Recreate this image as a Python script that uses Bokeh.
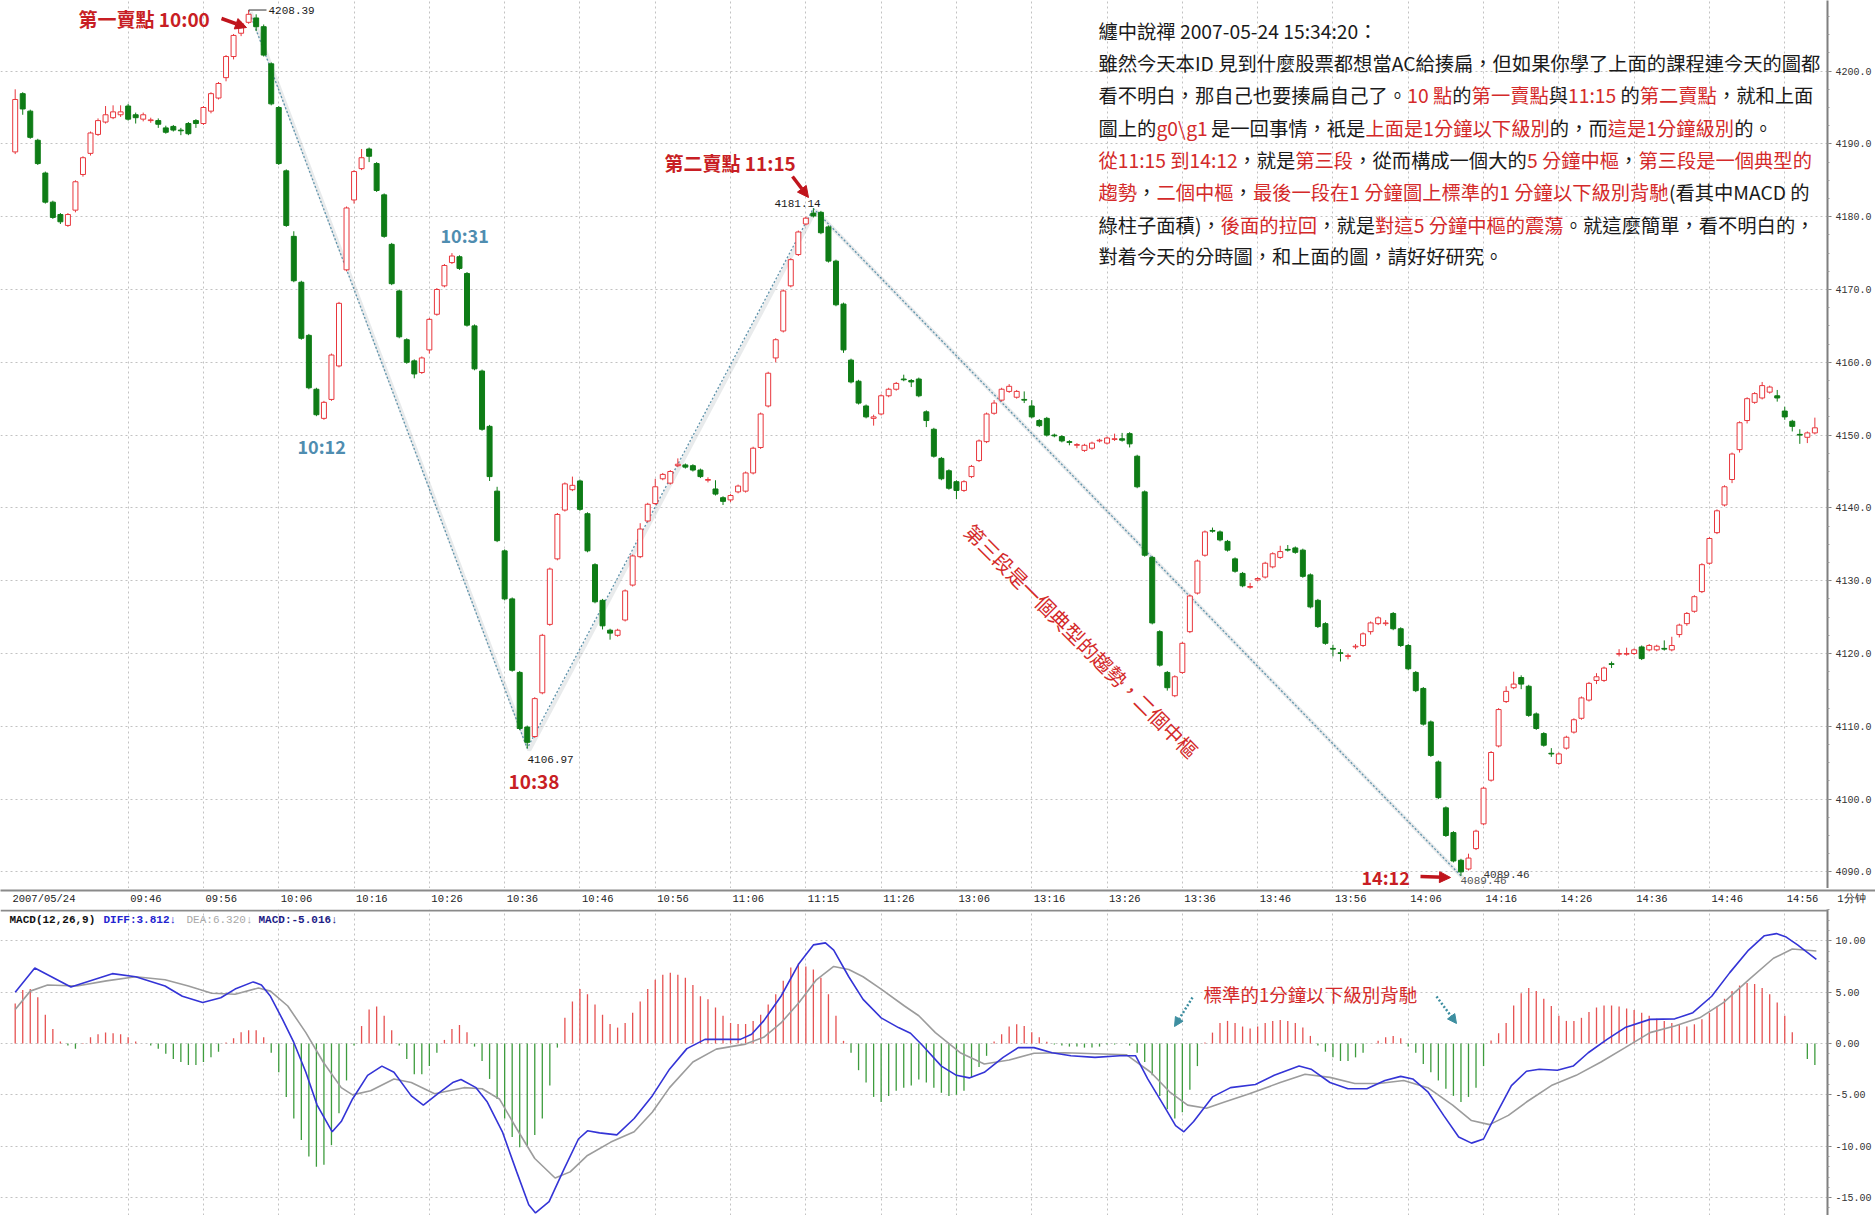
import numpy as np
from bokeh.plotting import figure
from bokeh.layouts import column
from bokeh.models import (ColumnDataSource, Range1d, FixedTicker, SingleIntervalTicker,
                          NumeralTickFormatter, Label, Arrow, NormalHead, Span)
from bokeh.embed import file_html
from bokeh.resources import INLINE

# ---------------- data (1-minute bars, 2007/05/24) ----------------
opens = [
    4188.9, 4196.9, 4194.5, 4190.5, 4186.0, 4182.0, 4180.3, 4178.8, 4180.9, 4185.8,
    4188.7, 4191.3, 4193.0, 4193.6, 4194.0, 4195.2, 4194.0, 4193.4, 4193.2, 4193.2,
    4192.2, 4192.4, 4191.9, 4192.8, 4193.2, 4192.8, 4194.5, 4196.3, 4199.1, 4202.0,
    4205.2, 4206.7, 4207.3, 4206.1, 4201.0, 4195.0, 4186.3, 4177.3, 4171.0, 4163.7,
    4156.3, 4152.3, 4154.9, 4159.5, 4172.7, 4182.3, 4186.6, 4189.3, 4187.3, 4183.0,
    4176.2, 4169.8, 4163.1, 4160.2, 4158.6, 4161.7, 4166.6, 4170.5, 4173.7, 4174.5,
    4172.2, 4165.0, 4158.8, 4151.2, 4142.3, 4134.1, 4127.5, 4117.4, 4109.9, 4108.6,
    4114.6, 4124.0, 4133.0, 4139.7, 4142.5, 4143.7, 4139.2, 4132.2, 4127.3, 4123.2,
    4122.5, 4124.6, 4129.4, 4133.3, 4138.2, 4140.6, 4144.0, 4143.4, 4145.8, 4145.9,
    4145.8, 4145.2, 4143.8, 4142.6, 4141.4, 4141.1, 4142.2, 4142.3, 4144.8, 4148.3,
    4154.0, 4160.6, 4164.3, 4170.5, 4174.8, 4179.0, 4180.5, 4180.6, 4178.6, 4173.9,
    4168.0, 4160.3, 4157.4, 4154.0, 4152.3, 4152.9, 4155.4, 4156.3, 4157.7, 4157.5,
    4157.7, 4153.2, 4150.8, 4146.8, 4145.1, 4143.6, 4142.4, 4144.3, 4146.5, 4149.1,
    4153.0, 4154.8, 4156.0, 4155.2, 4154.9, 4154.0, 4152.0, 4152.3, 4150.0, 4149.8,
    4149.1, 4148.6, 4147.9, 4148.2, 4149.2, 4148.9, 4149.4, 4149.5, 4150.2, 4147.1,
    4142.2, 4133.2, 4123.0, 4117.4, 4114.2, 4117.4, 4123.0, 4128.3, 4133.5, 4136.9,
    4136.7, 4135.4, 4133.0, 4131.0, 4129.1, 4130.1, 4130.5, 4131.9, 4133.2, 4134.3,
    4134.5, 4134.2, 4130.8, 4127.3, 4124.1, 4120.7, 4120.1, 4119.6, 4120.9, 4121.1,
    4123.0, 4124.1, 4124.1, 4125.5, 4123.4, 4121.1, 4117.4, 4115.2, 4110.6, 4105.1,
    4098.8, 4095.4, 4091.6, 4090.4, 4093.2, 4096.6, 4102.6, 4107.3, 4113.4, 4115.3,
    4116.7, 4115.5, 4111.7, 4109.0, 4106.3, 4104.9, 4107.0, 4109.2, 4111.1, 4113.6,
    4116.3, 4116.3, 4118.6, 4119.9, 4119.9, 4120.0, 4120.9, 4120.5, 4120.5, 4120.7,
    4120.5, 4122.6, 4124.1, 4125.8, 4128.5, 4132.4, 4136.6, 4140.4, 4143.9, 4148.0,
    4152.0, 4154.5, 4155.1, 4155.9, 4155.4, 4153.3, 4151.9, 4150.1, 4149.7, 4150.3,
]
closes = [
    4196.1, 4194.8, 4190.9, 4187.3, 4182.0, 4179.9, 4179.3, 4180.3, 4184.8, 4188.1,
    4191.5, 4193.2, 4194.0, 4194.4, 4194.4, 4193.4, 4193.6, 4194.0, 4193.3, 4192.7,
    4191.6, 4191.9, 4191.8, 4191.4, 4192.8, 4195.0, 4196.9, 4198.3, 4202.0, 4204.9,
    4206.5, 4207.8, 4206.1, 4202.2, 4195.5, 4187.3, 4178.8, 4171.2, 4163.3, 4156.5,
    4152.8, 4154.5, 4161.0, 4168.1, 4181.2, 4186.2, 4188.1, 4188.3, 4183.6, 4177.3,
    4170.8, 4163.5, 4160.0, 4158.4, 4160.6, 4165.9, 4170.0, 4173.3, 4174.6, 4172.9,
    4165.1, 4159.1, 4150.8, 4144.3, 4135.5, 4127.5, 4117.7, 4109.7, 4107.8, 4113.8,
    4122.5, 4131.6, 4139.1, 4143.3, 4143.1, 4139.8, 4134.1, 4127.1, 4123.8, 4122.8,
    4123.2, 4128.6, 4133.4, 4137.1, 4140.5, 4142.9, 4144.6, 4145.0, 4146.0, 4145.6,
    4145.2, 4144.3, 4143.9, 4141.9, 4140.9, 4141.7, 4143.0, 4144.8, 4148.2, 4152.9,
    4158.5, 4163.1, 4169.8, 4174.1, 4177.9, 4179.8, 4180.1, 4177.8, 4173.9, 4167.9,
    4161.7, 4157.3, 4154.4, 4152.5, 4152.5, 4155.4, 4156.3, 4157.1, 4157.6, 4157.3,
    4155.4, 4152.0, 4147.1, 4144.0, 4142.7, 4142.4, 4143.6, 4145.7, 4149.2, 4152.9,
    4154.4, 4156.3, 4156.7, 4156.0, 4154.8, 4152.5, 4151.3, 4150.0, 4149.9, 4149.2,
    4149.0, 4148.7, 4148.6, 4148.9, 4149.3, 4149.6, 4149.5, 4149.3, 4148.8, 4142.9,
    4133.5, 4124.2, 4118.4, 4115.3, 4116.8, 4121.4, 4127.9, 4132.7, 4136.7, 4136.8,
    4135.6, 4134.2, 4131.3, 4129.3, 4129.2, 4130.3, 4132.4, 4133.7, 4134.0, 4134.2,
    4133.9, 4130.6, 4126.4, 4123.7, 4121.4, 4120.6, 4120.0, 4119.7, 4121.0, 4122.7,
    4124.2, 4124.9, 4124.2, 4123.4, 4121.1, 4117.9, 4114.9, 4110.3, 4106.0, 4100.2,
    4095.0, 4091.5, 4090.0, 4091.9, 4095.6, 4101.5, 4106.4, 4112.3, 4114.8, 4115.8,
    4115.8, 4111.5, 4109.7, 4107.4, 4106.2, 4106.2, 4108.5, 4110.9, 4113.9, 4115.9,
    4116.8, 4118.0, 4118.5, 4120.0, 4120.0, 4120.5, 4119.3, 4121.1, 4121.0, 4120.6,
    4121.1, 4123.9, 4125.5, 4127.8, 4132.2, 4135.8, 4139.6, 4142.9, 4147.4, 4151.7,
    4155.0, 4155.7, 4156.8, 4156.6, 4155.1, 4152.5, 4151.2, 4150.0, 4150.3, 4151.0,
]
highs = [
    4197.5, 4197.1, 4194.7, 4190.7, 4186.2, 4182.2, 4180.5, 4180.5, 4185.0, 4188.3,
    4191.7, 4193.5, 4195.2, 4195.3, 4195.3, 4195.5, 4194.3, 4194.3, 4193.6, 4193.5,
    4192.5, 4192.6, 4192.2, 4193.0, 4193.4, 4195.2, 4197.1, 4198.5, 4202.2, 4205.1,
    4206.8, 4208.39, 4207.8, 4206.4, 4201.2, 4195.2, 4186.5, 4178.0, 4171.2, 4163.9,
    4156.5, 4154.7, 4161.2, 4168.3, 4181.4, 4186.4, 4189.3, 4189.5, 4187.5, 4183.2,
    4176.4, 4170.0, 4163.3, 4160.4, 4160.8, 4166.1, 4170.2, 4173.5, 4175.0, 4174.7,
    4172.4, 4165.2, 4159.0, 4151.4, 4142.9, 4134.3, 4127.7, 4117.6, 4110.1, 4114.0,
    4122.7, 4131.8, 4139.3, 4143.5, 4144.3, 4143.9, 4139.4, 4132.4, 4127.5, 4123.4,
    4123.4, 4128.8, 4133.6, 4137.9, 4140.7, 4144.0, 4144.8, 4145.2, 4146.8, 4146.1,
    4146.0, 4145.4, 4144.2, 4143.8, 4141.6, 4141.9, 4143.2, 4145.0, 4148.4, 4153.1,
    4158.7, 4163.3, 4170.0, 4174.3, 4178.1, 4180.0, 4181.14, 4180.8, 4178.8, 4174.1,
    4168.2, 4160.5, 4157.6, 4154.2, 4152.8, 4155.6, 4156.5, 4157.3, 4158.3, 4157.7,
    4157.9, 4153.4, 4151.0, 4147.0, 4145.3, 4143.8, 4143.8, 4145.9, 4149.4, 4153.1,
    4154.8, 4156.5, 4157.0, 4156.2, 4156.0, 4154.8, 4152.2, 4152.5, 4150.2, 4150.0,
    4149.3, 4148.9, 4148.8, 4149.1, 4149.5, 4149.8, 4150.2, 4150.3, 4150.4, 4147.3,
    4142.4, 4133.4, 4123.2, 4117.6, 4117.0, 4121.6, 4128.1, 4132.9, 4136.9, 4137.3,
    4136.9, 4135.6, 4133.2, 4131.2, 4129.7, 4130.5, 4132.6, 4133.9, 4134.8, 4134.9,
    4134.7, 4134.4, 4131.0, 4127.5, 4124.3, 4121.2, 4120.6, 4120.0, 4121.3, 4122.9,
    4124.4, 4125.1, 4124.6, 4125.7, 4123.6, 4121.3, 4117.6, 4115.4, 4110.8, 4105.3,
    4099.0, 4095.6, 4091.8, 4092.5, 4095.8, 4101.7, 4106.6, 4112.5, 4115.5, 4117.5,
    4117.0, 4115.7, 4111.9, 4109.2, 4107.0, 4106.4, 4108.7, 4111.1, 4114.1, 4116.1,
    4117.3, 4118.2, 4118.9, 4120.6, 4120.8, 4120.7, 4121.1, 4121.3, 4121.2, 4121.8,
    4122.3, 4124.1, 4125.7, 4128.0, 4132.4, 4136.0, 4139.8, 4143.1, 4147.6, 4151.9,
    4155.2, 4155.9, 4157.3, 4156.8, 4156.2, 4153.9, 4152.1, 4150.8, 4150.5, 4152.4,
]
lows = [
    4188.6, 4194.0, 4190.7, 4187.1, 4181.8, 4179.7, 4179.0, 4178.6, 4180.6, 4185.5,
    4188.4, 4191.1, 4192.8, 4193.4, 4193.7, 4193.2, 4192.8, 4193.1, 4192.9, 4192.2,
    4191.4, 4191.7, 4191.2, 4191.2, 4192.2, 4192.6, 4194.2, 4196.1, 4198.6, 4201.6,
    4204.8, 4206.5, 4205.5, 4202.0, 4195.3, 4187.1, 4178.6, 4171.0, 4163.1, 4156.3,
    4152.6, 4152.1, 4154.7, 4159.3, 4172.5, 4181.8, 4186.4, 4187.5, 4183.4, 4177.1,
    4170.6, 4163.3, 4159.8, 4157.8, 4158.4, 4161.2, 4166.4, 4170.3, 4173.5, 4172.7,
    4164.9, 4158.9, 4150.6, 4143.7, 4135.3, 4127.3, 4117.5, 4109.5, 4106.97, 4108.4,
    4114.4, 4123.8, 4132.8, 4139.5, 4142.3, 4139.6, 4133.9, 4126.9, 4123.3, 4121.9,
    4122.3, 4124.4, 4129.2, 4133.1, 4138.0, 4140.4, 4143.8, 4143.2, 4145.6, 4145.4,
    4145.0, 4144.1, 4143.5, 4141.7, 4140.4, 4140.8, 4142.0, 4142.1, 4144.6, 4148.1,
    4153.8, 4160.0, 4164.1, 4170.3, 4174.6, 4178.8, 4179.9, 4177.6, 4173.7, 4167.7,
    4161.3, 4157.1, 4154.2, 4152.3, 4151.3, 4152.7, 4155.2, 4156.1, 4157.4, 4156.6,
    4155.2, 4151.1, 4146.9, 4143.8, 4142.5, 4141.2, 4142.2, 4144.1, 4146.3, 4148.9,
    4152.8, 4154.6, 4155.8, 4155.0, 4154.4, 4152.3, 4151.1, 4149.8, 4149.7, 4149.0,
    4148.6, 4148.2, 4147.7, 4148.0, 4149.0, 4148.7, 4149.2, 4149.1, 4148.3, 4142.7,
    4133.3, 4124.0, 4118.2, 4114.9, 4114.0, 4117.2, 4122.8, 4128.1, 4133.3, 4136.6,
    4135.4, 4134.0, 4131.1, 4129.1, 4128.9, 4129.9, 4130.3, 4131.7, 4133.0, 4134.0,
    4133.7, 4130.4, 4126.2, 4123.5, 4121.2, 4119.6, 4118.9, 4119.2, 4120.6, 4120.9,
    4122.6, 4123.9, 4123.8, 4123.2, 4120.9, 4117.7, 4114.7, 4110.1, 4105.8, 4100.0,
    4094.8, 4091.3, 4089.46, 4090.2, 4093.0, 4096.4, 4102.4, 4107.1, 4113.2, 4115.1,
    4115.1, 4111.3, 4109.5, 4107.2, 4105.8, 4104.7, 4106.8, 4109.0, 4110.9, 4113.4,
    4115.8, 4116.1, 4118.0, 4119.6, 4119.7, 4119.8, 4119.1, 4120.3, 4120.3, 4120.4,
    4120.3, 4122.2, 4123.8, 4125.6, 4128.3, 4132.2, 4136.4, 4140.2, 4143.4, 4147.6,
    4151.6, 4154.3, 4154.9, 4155.7, 4154.6, 4152.1, 4150.5, 4148.8, 4148.9, 4150.1,
]
macd_hist = [
    3.9, 5.2, 5.3, 4.5, 2.8, 1.4, 0.2, -0.2, -0.5, 0.05,
    0.6, 0.9, 1.06, 1.0, 0.9, 0.6, 0.2, 0.0, -0.2, -0.5,
    -1.0, -1.5, -1.8, -2.1, -2.1, -1.8, -1.35, -0.8, 0.1, 0.5,
    1.1, 1.3, 1.3, 0.6, -0.9, -2.8, -5.2, -7.3, -9.4, -11.0,
    -12.0, -11.8, -9.9, -6.8, -3.6, -0.2, 1.7, 3.3, 3.6, 2.7,
    1.3, -0.2, -1.5, -3.0, -3.0, -2.2, -0.9, 0.35, 1.4, 1.8,
    1.1, -0.3, -1.7, -3.45, -5.4, -7.3, -9.1, -10.1, -10.0, -8.9,
    -7.3, -4.1, -0.4, 2.5, 4.1, 5.3, 4.8, 3.8, 2.8, 1.9,
    1.55, 2.0, 3.0, 4.1, 5.3, 6.2, 6.7, 6.9, 6.7, 6.4,
    5.7, 4.6, 4.3, 3.5, 2.7, 2.0, 1.9, 1.9, 2.2, 2.8,
    3.8, 4.8, 6.1, 7.4, 7.8, 7.5, 7.2, 6.4, 4.8, 2.7,
    0.26, -0.9, -2.6, -3.8, -5.2, -5.7, -5.1, -4.6, -4.3, -4.1,
    -3.5, -3.8, -4.3, -4.8, -5.1, -5.0, -4.6, -3.3, -2.3, -1.2,
    0.2, 0.9, 1.65, 1.87, 1.7, 1.1, 0.6, 0.16, -0.1, -0.2,
    -0.3, -0.3, -0.4, -0.4, -0.3, -0.1, -0.1, 0.0, -0.2, -0.9,
    -1.8, -3.1, -5.1, -6.4, -7.3, -6.7, -4.5, -2.2, 0.1, 1.06,
    2.0, 2.2, 2.0, 1.65, 1.45, 1.65, 2.0, 2.2, 2.3, 2.2,
    2.0, 1.55, 0.74, -0.2, -0.8, -1.35, -1.7, -1.7, -1.35, -0.9,
    0.0, 0.26, 0.6, 0.74, 0.5, -0.3, -0.9, -2.0, -2.8, -3.6,
    -4.4, -5.1, -5.7, -5.2, -4.3, -2.2, 0.3, 1.0, 2.0, 3.7,
    4.9, 5.4, 5.1, 4.35, 3.65, 2.7, 2.2, 2.2, 2.5, 3.06,
    3.5, 3.7, 3.7, 3.6, 3.4, 3.25, 3.0, 2.7, 2.4, 2.2,
    2.0, 1.8, 1.65, 1.87, 2.35, 3.0, 3.65, 4.35, 5.1, 5.65,
    5.9, 5.8, 5.4, 4.8, 4.0, 2.7, 1.1, 0.0, -1.5, -2.1,
]
diff_x = [0, 2.6, 7.4, 12.9, 16, 19.9, 22.2, 24.9, 27.3, 29.2, 31.6, 32.7, 33.9, 35.5, 37,
          38.6, 40.1, 42.1, 43.3, 44.8, 46.8, 48.7, 50.3, 52.6, 54.2, 56.1, 58.1, 59.2, 61.2,
          62.7, 64.7, 66.6, 68.2, 69.1, 70.9, 72.9, 74.8, 76, 77.6, 79.9, 82.2, 84.6, 86.9,
          89.2, 91.6, 96.3, 97.8, 99.4, 101.7, 104.1, 106, 107.6, 108.7, 110.7, 112.6, 115,
          117.3, 118.9, 120.5, 123, 125, 126.7, 128.7, 131.2, 133.2, 135.3, 137.7, 140.2,
          143.4, 146.7, 148.8, 150.4, 152.5, 154.1, 155.2, 156.5, 159, 161.4, 164.7, 167.2,
          170.5, 172.1, 174.6, 177, 179.5, 181.9, 184, 185.6, 187.6, 189.7, 191.7, 193.4,
          195, 196.6, 198.7, 200.7, 202.4, 204.8, 206.9, 208.9, 211.4, 213.8, 217.1, 220.4,
          222.8, 225.3, 227.7, 230.2, 232.3, 233.9, 235.1, 236.7, 239.2]
diff_v = [5.0, 7.35, 5.5, 6.8, 6.5, 5.6, 4.6, 4.0, 4.45, 5.3, 6.0, 5.7, 4.6, 2.35, 0.1,
          -2.8, -6.0, -8.6, -7.6, -5.4, -3.1, -2.2, -2.8, -5.1, -6.0, -4.9, -3.8, -3.5, -4.3,
          -5.7, -8.6, -12.5, -15.7, -16.5, -15.4, -12.2, -9.3, -8.5, -8.7, -8.9, -7.3, -5.1, -2.5,
          -0.5, 0.4, 0.4, 0.9, 2.2, 4.6, 7.8, 9.6, 9.8, 9.1, 6.5, 4.3, 2.5,
          1.55, 1.0, -0.2, -2.2, -3.1, -3.35, -2.8, -1.35, -0.4, -0.4, -0.9, -1.2,
          -1.35, -1.2, -1.2, -3.45, -6.0, -8.0, -8.6, -7.6, -5.2, -4.3, -4.0, -3.1,
          -2.2, -2.5, -3.8, -4.4, -4.4, -3.6, -3.2, -3.45, -4.7, -7.0, -9.1, -9.7,
          -9.3, -7.0, -4.1, -2.7, -2.5, -2.6, -2.2, -0.9, 0.4, 1.55, 2.35, 2.4,
          3.0, 4.6, 6.9, 9.1, 10.5, 10.7, 10.4, 9.6, 8.2]
dea_x = [0, 2, 4.3, 8.2, 12.1, 16, 19.9, 23, 26.1, 29.2, 32.3, 33.9, 36.2, 38.6, 40.9, 43.3,
         44.8, 47.2, 50.3, 52.6, 55.7, 59.6, 62, 64.3, 66.6, 69, 71.7, 73.7, 76, 79.1, 82.2,
         84.6, 86.9, 90, 93.1, 97, 99.4, 101.7, 104.1, 106.4, 108.7, 110.7, 112.6, 115, 118.1,
         120, 122.2, 125.5, 128.7, 132, 135.3, 139.4, 143.4, 147.6, 150.8, 153.3, 155.7, 158.2,
         160.6, 163.9, 168, 171.3, 174.6, 177.9, 181.1, 184.4, 187.6, 190.9, 193.4, 195.8,
         198.3, 200.7, 204, 207.3, 210.6, 213.8, 217.1, 220.4, 223.7, 226.9, 230.2, 233.5,
         236, 239.2]
dea_v = [3.3, 5.1, 5.7, 5.6, 6.1, 6.5, 6.2, 5.6, 4.9, 4.8, 5.4, 5.1, 3.65, 1.06, -1.8, -4.3,
         -5.0, -4.6, -3.45, -3.8, -4.9, -4.3, -4.4, -5.4, -8.3, -11.2, -13.1, -12.5, -10.9, -9.6, -8.6,
         -6.7, -4.3, -1.8, -0.55, -0.06, 0.6, 2.0, 4.0, 6.2, 7.5, 7.2, 6.5, 5.3, 3.65,
         2.7, 1.06, -0.9, -2.0, -1.6, -0.95, -0.9, -1.0, -1.1, -2.8, -4.7, -6.0, -6.3,
         -5.7, -4.9, -3.8, -3.0, -3.3, -3.9, -3.9, -3.6, -4.3, -6.0, -7.5, -7.9,
         -7.0, -5.7, -4.1, -3.1, -1.8, -0.4, 1.06, 1.7, 2.5, 4.0, 6.2, 8.3,
         9.2, 9.0]
tick_idx = [15, 25, 35, 45, 55, 65, 75, 85, 95, 105, 115, 125, 135, 145, 155, 165, 175,
            185, 195, 205, 215, 225, 235]
tick_labels = ["09:46", "09:56", "10:06", "10:16", "10:26", "10:36", "10:46", "10:56",
               "11:06", "11:15", "11:26", "13:06", "13:16", "13:26", "13:36", "13:46",
               "13:56", "14:06", "14:16", "14:26", "14:36", "14:46", "14:56"]
date_label = "2007/05/24"
period_label = "1分钟"
pivot_idx = [31, 68, 106, 192]
pivot_kind = ["H", "L", "H", "L"]

# ---------------- styles / layout helpers ----------------
C_UP, C_DN = "#e8363c", "#0e7c16"
H_UP, H_DN = "#e65252", "#3e9c3e"
RED_LBL, RED_TXT, TEAL, INK = "#c81e24", "#d42a2a", "#4f8db0", "#1a1a1a"
GRID = "#c2c2c2"
CJK = "Noto Sans CJK TC"
MONO = "Liberation Mono"
NBSP = "\u00a0"

# pixel <-> data mapping (page pixels, canvas starts at 0,0)
BAR0_PX, BAR_PX = 14.7, 7.53
def xd(px): return (px - BAR0_PX) / BAR_PX
P_REF, P_REF_PX, P_PPU = 4200.0, 70.6, 7.28
def yp(py): return P_REF - (py - P_REF_PX) / P_PPU
M_ZERO_PX, M_PPU = 1043.0, 10.27
def ym(py): return -(py - M_ZERO_PX) / M_PPU

FRAME_W, RIGHT_W = 1827, 48
PRICE_H, STRIP_H, AXIS_H = 888, 2, 19
MACD_TOP = PRICE_H + STRIP_H + AXIS_H          # 909
MACD_H = 306

x_rng = Range1d(xd(0), xd(FRAME_W))

def style_grid(fig, yint):
    fig.xgrid.ticker = FixedTicker(ticks=tick_idx)
    fig.ygrid.ticker = SingleIntervalTicker(interval=yint)
    for g in (fig.xgrid, fig.ygrid):
        g.grid_line_color = GRID
        g.grid_line_dash = "2 3"
        g.grid_line_width = 1

def style_yaxis(fig, interval, fmt):
    ax = fig.yaxis
    ax.ticker = SingleIntervalTicker(interval=interval, num_minor_ticks=5 if interval == 5 else 4)
    ax.formatter = NumeralTickFormatter(format=fmt)
    ax.major_label_text_font = MONO
    ax.major_label_text_font_size = "10px"
    ax.major_label_text_color = "#333333"
    ax.axis_line_color = "#7f7f7f"
    ax.axis_line_width = 2
    ax.major_tick_in = 0
    ax.major_tick_out = 4
    ax.minor_tick_in = 0
    ax.minor_tick_out = 2
    ax.major_tick_line_color = "#7f7f7f"
    ax.minor_tick_line_color = "#9a9a9a"
    ax.major_label_standoff = 4

# ---------------- price panel ----------------
p = figure(frame_width=FRAME_W, frame_height=PRICE_H, x_range=x_rng,
           y_range=Range1d(yp(PRICE_H), yp(0)), output_backend="svg",
           toolbar_location=None, tools="", x_axis_location=None,
           y_axis_location="right", min_border_left=0, min_border_top=0,
           min_border_bottom=0, min_border_right=RIGHT_W, outline_line_color=None,
           background_fill_color="white", border_fill_color="white")
style_grid(p, 10)
style_yaxis(p, 10, "0.0")

n = len(opens)
idx = np.arange(n)
up = [c >= o for o, c in zip(opens, closes)]
src = ColumnDataSource(dict(
    x=idx, h=highs, l=lows,
    top=np.maximum(opens, closes), bot=np.minimum(opens, closes),
    col=[C_UP if u else C_DN for u in up],
    fill=["white" if u else C_DN for u in up]))

# pivot trend lines (first sell point -> low -> second sell point -> low)
piv_y = [highs[i] if k == "H" else lows[i] for i, k in zip(pivot_idx, pivot_kind)]
dx_sh, dy_sh = 2.0 / BAR_PX, 2.0 / P_PPU
p.line([i + dx_sh for i in pivot_idx], [v - dy_sh for v in piv_y],
       line_color="#9aa4aa", line_width=4, line_alpha=0.22)
p.line(pivot_idx, piv_y, line_color="#5f93ab", line_width=1.3, line_dash="2 2")

p.segment(x0="x", y0="h", x1="x", y1="l", line_color="col", line_width=1, source=src)
p.vbar(x="x", top="top", bottom="bot", width=0.66, fill_color="fill",
       line_color="col", line_width=1, source=src)

def lab(fig, px, py, text, color, size, yfun=yp, font=CJK, style="normal",
        align="left", angle=0, xoff=0, baseline="middle"):
    fig.add_layout(Label(x=xd(px), y=yfun(py), text=text, text_color=color,
                         text_font_size=f"{size}px", text_font=font,
                         text_font_style=style, text_align=align,
                         text_baseline=baseline, angle=angle, angle_units="deg",
                         x_offset=xoff))

# pivot value labels
p.line([pivot_idx[0], xd(266)], [piv_y[0], piv_y[0]], line_color="#333333", line_width=1)
lab(p, 268, 10, f"{piv_y[0]:.2f}", INK, 11, font=MONO)
lab(p, 527, 759, f"{piv_y[1]:.2f}", INK, 11, font=MONO)
lab(p, 774, 203, f"{piv_y[2]:.2f}", INK, 11, font=MONO)
lab(p, 1483, 874, f"{piv_y[3]:.2f}", "#333333", 11, font=MONO)
lab(p, 1460, 880, f"{piv_y[3]:.2f}", "#555555", 11, font=MONO)

# annotations
lab(p, 78, 18, "第一賣點 10:00", RED_LBL, 19, style="bold")
lab(p, 664, 162, "第二賣點 11:15", RED_LBL, 19, style="bold")
lab(p, 297, 445, "10:12", TEAL, 18, style="bold")
lab(p, 440, 234, "10:31", TEAL, 18, style="bold")
lab(p, 508, 780, "10:38", RED_LBL, 19, style="bold")
lab(p, 1361, 876, "14:12", RED_LBL, 18, style="bold")
lab(p, 968, 527, "第三段是一個典型的趨勢，二個中樞", RED_TXT, 20, angle=-45)

def arrow(fig, x0, y0, x1, y1, color, width, yfun=yp, dash="solid", size=11):
    fig.add_layout(Arrow(end=NormalHead(size=size, fill_color=color, line_color=color),
                         x_start=xd(x0), y_start=yfun(y0), x_end=xd(x1), y_end=yfun(y1),
                         line_color=color, line_width=width, line_dash=dash))

arrow(p, 221, 18, 246, 27, "#c0141c", 3.5)
arrow(p, 792, 176, 808, 197, "#c0141c", 3.5)
arrow(p, 1420, 876, 1450, 877, "#c0141c", 3.5)

# paragraph (multi-coloured rows); spaces at segment edges kept as no-break spaces
NARROW = {' ': 0.224, NBSP: 0.224, ':': 0.27, '.': 0.26, '-': 0.33, '(': 0.33, ')': 0.33,
          '\\': 0.38, 'I': 0.27, 'M': 0.83, 'g': 0.56}
def em_width(s):
    w = 0.0
    for ch in s:
        if ord(ch) > 0x2000:
            w += 1.0
        elif ch.isdigit():
            w += 0.554
        elif ch in NARROW:
            w += NARROW[ch]
        elif ch.isupper():
            w += 0.65
        else:
            w += 0.55
    return w

K, R = INK, RED_TXT
rows = [
    [("纏中說禪 2007-05-24 15:34:20：", K)],
    [("雖然今天本ID 見到什麼股票都想當AC給揍扁，但如果你學了上面的課程連今天的圖都", K)],
    [("看不明白，那自己也要揍扁自己了。", K), ("10 點", R), ("的", K), ("第一賣點", R),
     ("與", K), ("11:15", R), (NBSP + "的", K), ("第二賣點", R), ("，就和上面", K)],
    [("圖上的", K), ("g0\\g1", R), (NBSP + "是一回事情，衹是", K), ("上面是1分鐘以下級別", R),
     ("的，而", K), ("這是1分鐘級別", R), ("的。", K)],
    [("從11:15 到14:12", R), ("，就是", K), ("第三段", R), ("，從而構成一個大的", K),
     ("5 分鐘中樞", R), ("，", K), ("第三段是一個典型的", R)],
    [("趨勢", R), ("，", K), ("二個中樞", R), ("，", K),
     ("最後一段在1 分鐘圖上標準的1 分鐘以下級別背馳", R), ("(看其中MACD 的", K)],
    [("綠柱子面積)，", K), ("後面的拉回", R), ("，就是", K), ("對這5 分鐘中樞的震蕩", R),
     ("。就這麼簡單，看不明白的，", K)],
    [("對着今天的分時圖，和上面的圖，請好好研究。", K)],
]
row_y = [30, 62, 94.5, 127, 159, 191, 224, 255]
PARA_X, PARA_SIZE = 1098, 19.3
for segs, ry in zip(rows, row_y):
    off = 0.0
    for txt, col in segs:
        lab(p, PARA_X, ry, txt, col, PARA_SIZE, xoff=off)
        off += em_width(txt) * PARA_SIZE

# ---------------- time-axis strip (spans full width, incl. period label) ----------------
s = figure(frame_width=FRAME_W + RIGHT_W, frame_height=STRIP_H,
           x_range=Range1d(xd(0), xd(FRAME_W + RIGHT_W)), y_range=Range1d(0, 1),
           output_backend="svg", toolbar_location=None, tools="",
           x_axis_location="below", y_axis_location=None,
           min_border_left=0, min_border_top=0, min_border_right=0,
           min_border_bottom=AXIS_H, outline_line_color=None,
           background_fill_color="white", border_fill_color="white")
s.xgrid.visible = False
s.ygrid.visible = False
shift = 2.36
lab_pos = [3.82] + [t + shift for t in tick_idx] + [xd(1851)]
s.xaxis.ticker = FixedTicker(ticks=lab_pos)
s.xaxis.major_label_overrides = {pos: lab_ for pos, lab_ in
                                 zip(lab_pos, [date_label] + tick_labels + [period_label])}
s.xaxis.major_tick_line_color = None
s.xaxis.major_tick_out = 0
s.xaxis.major_tick_in = 0
s.xaxis.minor_tick_line_color = None
s.xaxis.axis_line_color = "#8a8a8a"
s.xaxis.axis_line_width = 2
s.xaxis.major_label_standoff = 2
s.xaxis.major_label_text_font = MONO
s.xaxis.major_label_text_font_size = "10.5px"
s.xaxis.major_label_text_color = "#222222"

# ---------------- MACD panel ----------------
q = figure(frame_width=FRAME_W, frame_height=MACD_H, x_range=x_rng,
           y_range=Range1d(ym(MACD_TOP + MACD_H), ym(MACD_TOP)), output_backend="svg",
           toolbar_location=None, tools="", x_axis_location=None,
           y_axis_location="right", min_border_left=0, min_border_top=0,
           min_border_bottom=0, min_border_right=RIGHT_W, outline_line_color=None,
           background_fill_color="white", border_fill_color="white")
style_grid(q, 5)
style_yaxis(q, 5, "0.00")

q.add_layout(Span(location=ym(MACD_TOP + 1), dimension="width", line_color="#8a8a8a", line_width=2))

hsrc = ColumnDataSource(dict(x=idx, y0=np.zeros(n), y1=macd_hist,
                             col=[H_UP if v >= 0 else H_DN for v in macd_hist]))
q.segment(x0="x", y0="y0", x1="x", y1="y1", line_color="col", line_width=1.3, source=hsrc)
q.line(dea_x, dea_v, line_color="#9c9c9c", line_width=1.6)
q.line(diff_x, diff_v, line_color="#3434d6", line_width=1.6)

# legend row
lab(q, 9, 919, "MACD(12,26,9)", "#111111", 11, yfun=ym, font=MONO, style="bold")
lab(q, 103, 919, "DIFF:3.812↓", "#2424d0", 11, yfun=ym, font=MONO, style="bold")
lab(q, 186, 919, "DEA:6.320↓", "#a8a8a8", 11, yfun=ym, font=MONO)
lab(q, 258, 919, "MACD:-5.016↓", "#1c1c86", 11, yfun=ym, font=MONO, style="bold")

lab(q, 1203, 993, "標準的1分鐘以下級別背馳", RED_TXT, 18.5, yfun=ym)
arrow(q, 1192, 997, 1174, 1026, "#3d8ea0", 2.5, yfun=ym, dash="2 2", size=9)
arrow(q, 1436, 996, 1456, 1023, "#3d8ea0", 2.5, yfun=ym, dash="2 2", size=9)

layout = column(p, s, q, spacing=0)
open("out.html", "w").write(file_html(layout, INLINE, title="1分鐘 K線 MACD"))
